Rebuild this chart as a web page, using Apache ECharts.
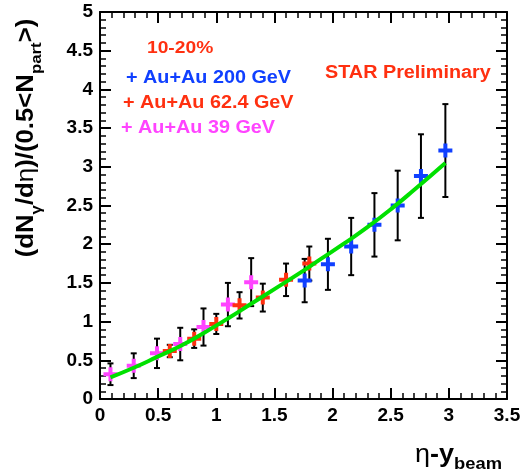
<!DOCTYPE html>
<html lang="en">
<head>
    <meta charset="UTF-8">
    <script src="https://cdn.jsdelivr.net/npm/echarts@6/dist/echarts.min.js"></script>
    <title>dNgamma/deta vs eta-ybeam</title>
    <style>
        html, body { margin: 0; padding: 0; background: #fff; }
        #chart { width: 526px; height: 472px; }
    </style>
</head>

<script>
    // Au+Au 39 GeV (magenta)
    const x39 = [0.09, 0.29, 0.49, 0.69, 0.89, 1.10, 1.30]
    const y39 = [0.32, 0.43, 0.59, 0.71, 0.93, 1.22, 1.51]
    const e39 = [0.14, 0.16, 0.19, 0.21, 0.24, 0.28, 0.31]

    // Au+Au 62.4 GeV (red)
    const x62 = [0.60, 0.81, 1.00, 1.20, 1.40, 1.60, 1.80]
    const y62 = [0.62, 0.78, 0.97, 1.21, 1.31, 1.54, 1.75]
    const e62 = [0.08, 0.12, 0.13, 0.17, 0.18, 0.21, 0.22]

    // Au+Au 200 GeV (blue)
    const x200 = [1.76, 1.96, 2.16, 2.36, 2.56, 2.76, 2.97]
    const y200 = [1.53, 1.74, 1.97, 2.25, 2.50, 2.88, 3.21]
    const e200 = [0.28, 0.33, 0.37, 0.41, 0.45, 0.54, 0.60]

    // green fit curve
    const fitX = [0.09, 0.3, 0.5, 0.7, 0.9, 1.1, 1.3, 1.5, 1.7, 1.9, 2.1, 2.3, 2.5, 2.7, 2.97]
    const fitY = [0.28, 0.41, 0.55, 0.69, 0.86, 1.04, 1.23, 1.42, 1.61, 1.81, 2.01, 2.22, 2.45, 2.70, 3.05]

    const FONT = '"Liberation Sans", Arial, sans-serif'
    const plus = 'path://M5,0H9V5H14V9H9V14H5V9H0V5H5Z'

    function zip(xs, ys, es) {
        let out = []
        for (let i = 0; i < xs.length; i++) {
            out.push(es ? [xs[i], ys[i], es[i]] : [xs[i], ys[i]])
        }
        return out
    }

    function errorBar(params, api) {
        let x = api.value(0), y = api.value(1), e = api.value(2)
        let top = api.coord([x, y + e])
        let bot = api.coord([x, y - e])
        let cap = 3
        let st = { stroke: '#000', lineWidth: 2 }
        return {
            type: 'group',
            children: [
                { type: 'line', shape: { x1: top[0], y1: top[1], x2: bot[0], y2: bot[1] }, style: st },
                { type: 'line', shape: { x1: top[0] - cap, y1: top[1], x2: top[0] + cap, y2: top[1] }, style: st },
                { type: 'line', shape: { x1: bot[0] - cap, y1: bot[1], x2: bot[0] + cap, y2: bot[1] }, style: st }
            ]
        }
    }

    function makeAxis(pos, max, labels) {
        return {
            type: 'value',
            position: pos,
            min: 0,
            max: max,
            interval: 0.5,
            axisLine: { show: true, onZero: false, lineStyle: { color: '#000', width: 2 } },
            axisTick: { show: true, inside: true, length: 11, lineStyle: { color: '#000', width: 2 } },
            minorTick: { show: true, splitNumber: 5, length: 6, lineStyle: { color: '#000', width: 1.5 } },
            splitLine: { show: false },
            axisLabel: {
                show: labels,
                color: '#000',
                fontFamily: FONT,
                fontWeight: 'bold',
                fontSize: 19,
                margin: 7
            }
        }
    }

    // plain label, stretched a little wider like the original
    function label(txt, x, y, color, size, sx) {
        return {
            type: 'text', x: x, y: y, scaleX: sx,
            style: { text: txt, fill: color, font: 'bold ' + size + 'px ' + FONT, align: 'left', verticalAlign: 'middle' }
        }
    }
</script>

<body>
    <div id="chart"></div>
    <script>
        var chart = echarts.init(document.getElementById('chart'), null, { renderer: 'canvas' })

        var option = {
            animation: false,
            backgroundColor: '#fff',
            grid: { left: 100, right: 19, top: 12, bottom: 73 },
            xAxis: [makeAxis('bottom', 3.5, true), makeAxis('top', 3.5, false)],
            yAxis: [makeAxis('left', 5, true), makeAxis('right', 5, false)],
            graphic: [
                label('10-20%', 147, 48, '#ff3010', 17, 1.13),
                label('+ Au+Au 200 GeV', 126, 78, '#1040ff', 18, 1.1),
                label('+ Au+Au 62.4 GeV', 123, 103, '#ff3010', 18, 1.1),
                label('+ Au+Au 39 GeV', 121, 128, '#ff44ff', 18, 1.1),
                label('STAR Preliminary', 325, 73, '#ff3010', 18, 1.1),
                {
                    // y-axis title, reads bottom to top
                    type: 'text', x: 27, y: 138, rotation: Math.PI / 2, scaleX: 1.12,
                    style: {
                        text: '{m|(dN}{s|γ}{m|/d}{g|η}{m|)/(0.5<N}{s|part}{m|>)}',
                        align: 'center', verticalAlign: 'middle',
                        rich: {
                            m: { fontFamily: FONT, fontWeight: 'bold', fontSize: 23, lineHeight: 34, verticalAlign: 'middle', fill: '#000' },
                            g: { fontFamily: FONT, fontWeight: 'normal', fontSize: 23, lineHeight: 34, verticalAlign: 'middle', fill: '#000' },
                            s: { fontFamily: FONT, fontWeight: 'bold', fontSize: 15, lineHeight: 17, verticalAlign: 'bottom', fill: '#000' }
                        }
                    }
                },
                {
                    // x-axis title
                    type: 'text', x: 415, y: 455, scaleX: 1.08,
                    style: {
                        text: '{g|η}{m|-y}{s|beam}',
                        align: 'left', verticalAlign: 'middle',
                        rich: {
                            g: { fontFamily: FONT, fontWeight: 'normal', fontSize: 25, lineHeight: 36, verticalAlign: 'middle', fill: '#000' },
                            m: { fontFamily: FONT, fontWeight: 'bold', fontSize: 25, lineHeight: 36, verticalAlign: 'middle', fill: '#000' },
                            s: { fontFamily: FONT, fontWeight: 'bold', fontSize: 17, lineHeight: 18, verticalAlign: 'bottom', fill: '#000' }
                        }
                    }
                }
            ],
            series: [
                { type: 'custom', renderItem: errorBar, data: zip(x39, y39, e39), z: 2 },
                { type: 'custom', renderItem: errorBar, data: zip(x62, y62, e62), z: 2 },
                { type: 'custom', renderItem: errorBar, data: zip(x200, y200, e200), z: 2 },
                {
                    name: 'Au+Au 39 GeV', type: 'scatter', symbol: plus, symbolSize: 14,
                    itemStyle: { color: '#ff44ff', opacity: 1 }, data: zip(x39, y39), z: 3
                },
                {
                    name: 'Au+Au 62.4 GeV', type: 'scatter', symbol: plus, symbolSize: 14,
                    itemStyle: { color: '#ff3010', opacity: 1 }, data: zip(x62, y62), z: 3
                },
                {
                    name: 'Au+Au 200 GeV', type: 'scatter', symbol: plus, symbolSize: 14,
                    itemStyle: { color: '#1040ff', opacity: 1 }, data: zip(x200, y200), z: 3
                },
                {
                    name: 'fit', type: 'line', smooth: true, showSymbol: false,
                    lineStyle: { color: '#00e000', width: 4 },
                    data: zip(fitX, fitY), z: 4
                }
            ]
        }
        chart.setOption(option)
    </script>
</body>
</html>
